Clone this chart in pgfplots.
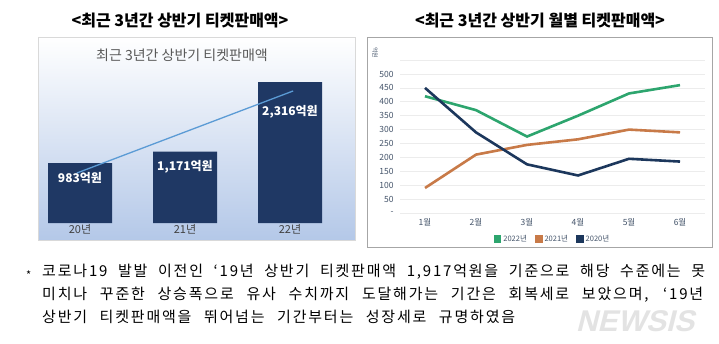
\documentclass[border=0pt]{standalone}
\usepackage{pgfplots}
\pgfplotsset{compat=1.18}
\usepackage{fontspec}
\setmainfont{Noto Sans CJK KR}
\newfontfamily\wmfont[FakeSlant=0.25]{Liberation Sans}
\newfontfamily\notefont[LetterSpace=12]{Noto Sans CJK KR}
\definecolor{navy}{RGB}{31,56,100}
\definecolor{leftblue}{RGB}{180,200,232}
\definecolor{trend}{RGB}{91,155,213}
\definecolor{c22}{RGB}{45,165,110}
\definecolor{c21}{RGB}{200,122,72}
\definecolor{c20}{RGB}{28,55,92}
\definecolor{tickc}{RGB}{68,84,106}
\begin{document}
\begin{tikzpicture}
\path[use as bounding box] (0pt,0pt) rectangle (719pt,343pt);
% headings
\node[font=\fontsize{16}{18}\selectfont\bfseries] at (180pt,322pt) {<최근 3년간 상반기 티켓판매액>};
\node[font=\fontsize{16}{18}\selectfont\bfseries] at (540pt,322pt) {<최근 3년간 상반기 월별 티켓판매액>};
% left panel background
\shadedraw[top color=white,bottom color=leftblue,draw=gray!30] (38pt,103pt) rectangle (355pt,306pt);
\node[font=\fontsize{14}{16}\selectfont, text=black!65] at (182pt,288pt) {최근 3년간 상반기 티켓판매액};
\begin{axis}[at={(17pt,120pt)}, anchor=south west, scale only axis,
  width=336pt, height=150pt, xmin=-0.6, xmax=2.6, ymin=0, ymax=2464,
  axis line style={draw=none}, ytick=\empty, xtick={0,1,2},
  xticklabels={20년,21년,22년}, major tick length=0pt, clip=false,
  xticklabel style={font=\fontsize{11}{12}\selectfont, text=black!75, yshift=2pt}]
\addplot[ybar, bar width=64pt, fill=navy, draw=none] coordinates {(0,983) (1,1171) (2,2316)};
\addplot[trend, line width=1.3pt, no marks] coordinates {(-0.03,821) (2.03,2169)};
\node[text=white, font=\fontsize{12}{14}\selectfont\bfseries] at (axis cs:0,737) {983억원};
\node[text=white, font=\fontsize{12}{14}\selectfont\bfseries] at (axis cs:1,925) {1,171억원};
\node[text=white, font=\fontsize{12}{14}\selectfont\bfseries] at (axis cs:2,1823) {2,316억원};
\end{axis}
% right panel
\draw[gray!70, fill=white, line width=0.8pt] (367pt,96pt) rectangle (712pt,306pt);
\node[rotate=-90, font=\fontsize{6}{7}\selectfont, text=tickc] at (375pt,290pt) {억원};
\begin{axis}[at={(400pt,130pt)}, anchor=south west, scale only axis,
  width=305pt, height=152.9pt, xmin=0.51, xmax=6.49, ymin=0, ymax=550,
  axis line style={draw=none}, major tick length=0pt,
  ytick={0,50,...,550}, yticklabels={-,50,100,150,200,250,300,350,400,450,500,{}},
  ymajorgrids, grid style={gray!15, line width=0.6pt},
  xtick={1,...,6}, xticklabels={1월,2월,3월,4월,5월,6월},
  tick label style={font=\fontsize{8.5}{9}\selectfont, text=tickc},
  /pgf/number format/assume math mode=true,
  xticklabel style={yshift=-2pt}, yticklabel style={xshift=-3pt},
  legend columns=3,
  legend style={draw=none, fill=none, at={(0.5,-0.17)}, anchor=center,
    font=\fontsize{7.5}{9}\selectfont, text=tickc, /tikz/every even column/.append style={column sep=6pt}},
  legend image code/.code={\fill[#1] (0pt,-2.5pt) rectangle (5pt,2.5pt);}]
\addplot[c22, line width=2.6pt, no marks] coordinates {(1,420) (2,370) (3,275) (4,350) (5,430) (6,460)};
\addlegendentry{2022년}
\addplot[c21, line width=2.6pt, no marks] coordinates {(1,90) (2,210) (3,245) (4,265) (5,300) (6,290)};
\addlegendentry{2021년}
\addplot[c20, line width=2.6pt, no marks] coordinates {(1,450) (2,290) (3,175) (4,135) (5,195) (6,185)};
\addlegendentry{2020년}
\end{axis}
% watermark
\node[font=\wmfont\fontsize{30}{32}\selectfont\bfseries, text=gray!22] at (635pt,22pt) {NEWSIS};
% footnote
\node[anchor=base west, inner sep=0pt, font=\fontsize{11}{12}\selectfont] at (26pt,64pt) {*};
\node[anchor=base west, inner sep=0pt, font=\notefont\fontsize{15}{16}\selectfont] at (42pt,67pt) {\makebox[663pt][s]{코로나19 발발 이전인 ‘19년 상반기 티켓판매액 1,917억원을 기준으로 해당 수준에는 못}};
\node[anchor=base west, inner sep=0pt, font=\notefont\fontsize{15}{16}\selectfont] at (42pt,44pt) {\makebox[661pt][s]{미치나 꾸준한 상승폭으로 유사 수치까지 도달해가는 기간은 회복세로 보았으며, ‘19년}};
\node[anchor=base west, inner sep=0pt, font=\notefont\fontsize{15}{16}\selectfont] at (42pt,21pt) {\makebox[473pt][s]{상반기 티켓판매액을 뛰어넘는 기간부터는 성장세로 규명하였음}};
\end{tikzpicture}
\end{document}
